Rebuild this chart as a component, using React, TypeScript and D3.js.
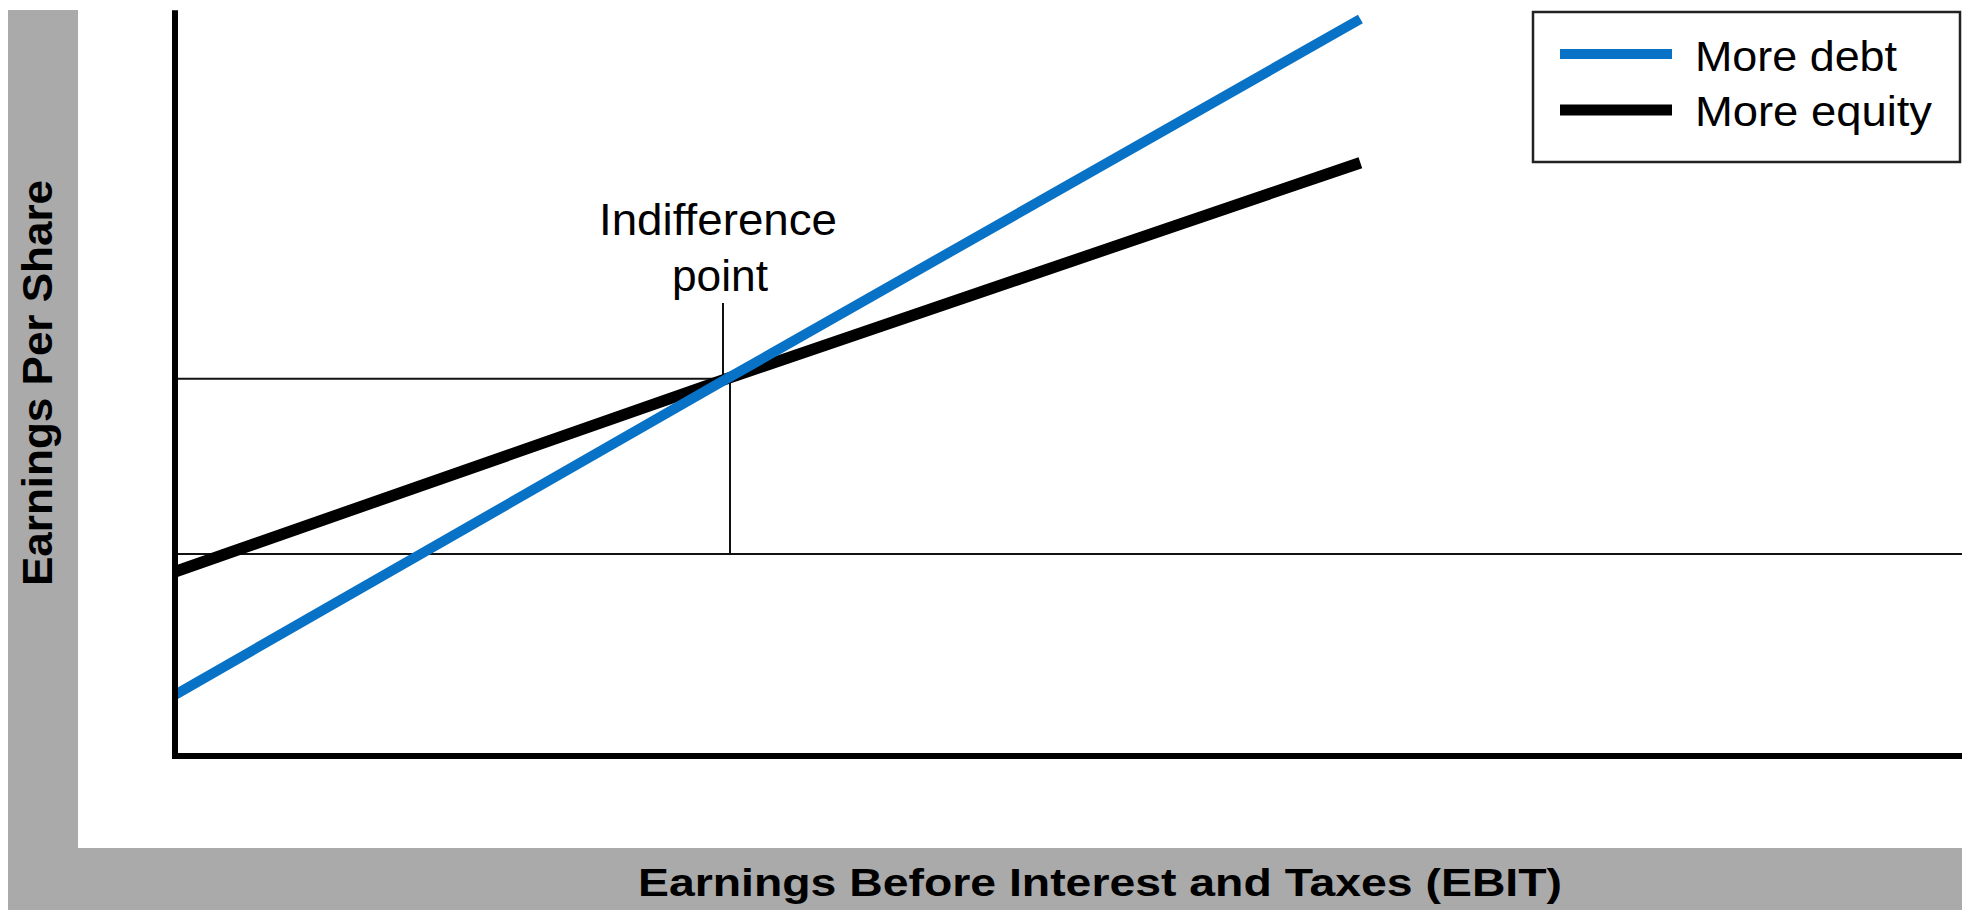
import React, { useEffect } from "react";
import * as d3 from "d3";

// ---- data ----
const ebitPoints = [0, 278, 597];
const moreDebtEps = [0.83, 5.12, 10.0];
const moreEquityEps = [2.5, 5.12, 8.05];
const indifferenceEbit = 278;
const indifferenceEps = 5.12;
const referenceEps = 2.74;
const seriesNames = ["More debt", "More equity"];
const seriesColors = ["#0872c6", "#000000"];
const xTitle = "Earnings Before Interest and Taxes (EBIT)";
const yTitle = "Earnings Per Share";
const annotationLines = ["Indifference", "point"];

const W = 1962;
const H = 910;

export default function App() {
  useEffect(() => {
    document.body.style.margin = "0";
    document.body.style.overflow = "hidden";
  }, []);

  const x = d3.scaleLinear().domain([0, 900]).range([175, 1962]);
  const y = d3.scaleLinear().domain([0, 10]).range([756, 19]);

  const line = d3
    .line<[number, number]>()
    .x((d) => x(d[0]))
    .y((d) => y(d[1]));

  const debtPts = ebitPoints.map((e, i) => [e, moreDebtEps[i]] as [number, number]);
  const eqPts = ebitPoints.map((e, i) => [e, moreEquityEps[i]] as [number, number]);

  const ix = x(indifferenceEbit);
  const iy = y(indifferenceEps);
  const ry = y(referenceEps);

  const font = "'Liberation Sans', Arial, Helvetica, sans-serif";

  return (
    <svg
      width={W}
      height={H}
      style={{ position: "absolute", left: 0, top: 0, display: "block" }}
    >
      <rect x={0} y={0} width={W} height={H} fill="#ffffff" />
      {/* gray L-frame */}
      <rect x={8} y={10} width={70} height={H - 10} fill="#aaaaaa" />
      <rect x={8} y={848} width={W - 8} height={H - 848} fill="#aaaaaa" />

      {/* axis titles */}
      <text
        x={1100}
        y={896}
        textAnchor="middle"
        fontFamily={font}
        fontWeight="bold"
        fontSize={39}
        textLength={924}
        lengthAdjust="spacingAndGlyphs"
        fill="#000"
      >
        {xTitle}
      </text>
      <text
        transform={`translate(52,383) rotate(-90)`}
        textAnchor="middle"
        fontFamily={font}
        fontWeight="bold"
        fontSize={42}
        textLength={406}
        lengthAdjust="spacingAndGlyphs"
        fill="#000"
      >
        {yTitle}
      </text>

      {/* reference thin lines */}
      <line x1={x(0)} x2={W} y1={ry} y2={ry} stroke="#111" strokeWidth={2} />
      <line x1={x(0)} x2={ix} y1={iy} y2={iy} stroke="#111" strokeWidth={2} />
      <line x1={ix + 3} x2={ix + 3} y1={iy} y2={ry} stroke="#111" strokeWidth={2} />
      <line x1={ix - 4} x2={ix - 4} y1={303} y2={iy} stroke="#111" strokeWidth={2} />

      {/* series lines */}
      <path d={line(eqPts) || ""} fill="none" stroke={seriesColors[1]} strokeWidth={11.5} />
      <path d={line(debtPts) || ""} fill="none" stroke={seriesColors[0]} strokeWidth={10} />

      {/* axes */}
      <line x1={x(0)} x2={x(0)} y1={y(10.12)} y2={y(0) + 3} stroke="#000" strokeWidth={6} />
      <line x1={x(0) - 3} x2={W} y1={y(0)} y2={y(0)} stroke="#000" strokeWidth={6} />

      {/* annotation */}
      <text
        x={718}
        y={235}
        textAnchor="middle"
        fontFamily={font}
        fontSize={45}
        textLength={238}
        lengthAdjust="spacingAndGlyphs"
        fill="#000"
      >
        {annotationLines[0]}
      </text>
      <text
        x={720}
        y={291}
        textAnchor="middle"
        fontFamily={font}
        fontSize={45}
        textLength={96}
        lengthAdjust="spacingAndGlyphs"
        fill="#000"
      >
        {annotationLines[1]}
      </text>

      {/* legend */}
      <rect x={1533} y={12} width={427} height={150} fill="#fff" stroke="#222" strokeWidth={2.5} />
      {seriesNames.map((name, i) => (
        <g key={name}>
          <line
            x1={1560}
            x2={1672}
            y1={54 + i * 56}
            y2={54 + i * 56}
            stroke={seriesColors[i]}
            strokeWidth={i === 0 ? 10 : 11}
          />
          <text
            x={1695}
            y={71 + i * 55}
            fontFamily={font}
            fontSize={42}
            textLength={i === 0 ? 202 : 237}
            lengthAdjust="spacingAndGlyphs"
            fill="#000"
          >
            {name}
          </text>
        </g>
      ))}
    </svg>
  );
}
